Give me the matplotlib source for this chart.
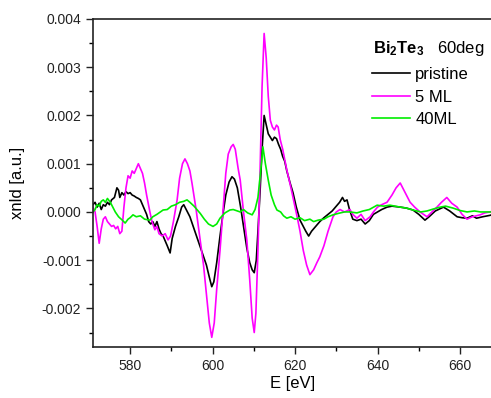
import numpy as np
import matplotlib
matplotlib.use("Agg")
import matplotlib.pyplot as plt
from matplotlib.ticker import MultipleLocator

plt.rcParams["font.family"] = ["Liberation Sans", "DejaVu Sans"]
plt.rcParams["mathtext.fontset"] = "custom"
plt.rcParams["mathtext.rm"] = "Liberation Sans"
plt.rcParams["mathtext.bf"] = "Liberation Sans:bold"

# pristine (values in 1e-3 a.u.)
e_pristine = [571.0, 571.5, 572.0, 572.5, 573.0, 573.5, 574.0, 574.5, 575.0, 575.5, 576.2, 576.8, 577.2, 577.5,
              578.0, 578.5, 579.0, 579.5, 580.0, 580.5, 581.0, 581.5, 582.0, 582.5, 583.0, 583.5, 584.0, 584.5,
              585.0, 585.5, 586.0, 586.5, 587.0, 587.5, 588.0, 588.5, 589.0, 589.7, 590.2, 591.0, 591.8, 592.5,
              593.0, 593.6, 594.5, 595.5, 596.5, 597.5, 598.5, 599.2, 599.8, 600.3, 601.0, 601.8, 602.5, 603.2,
              604.0, 604.7, 605.3, 606.0, 606.8, 607.5, 608.3, 609.0, 609.6, 610.1, 610.6, 611.0, 611.5, 612.0,
              612.5, 612.9, 613.5, 614.0, 614.5, 615.0, 615.5, 616.0, 616.5, 617.0, 617.5, 618.0, 618.8, 619.5,
              620.3, 621.2, 622.0, 622.6, 623.3, 624.0, 625.0, 626.0, 627.0, 628.0, 629.0, 630.0, 630.8, 631.5,
              632.0, 632.6, 633.2, 634.0, 635.0, 636.0, 637.0, 638.0, 639.0, 640.0, 641.0, 642.3, 643.5, 645.5,
              647.0, 648.6, 650.0, 651.5, 652.5, 654.0, 656.0, 657.5, 659.3, 660.5, 661.7, 663.0, 664.0, 665.5,
              667.3, 668.0]
y_pristine = [0.15, 0.20, 0.10, 0.18, 0.05, 0.15, 0.12, 0.20, 0.15, 0.25, 0.30, 0.50, 0.45, 0.30,
              0.40, 0.35, 0.42, 0.38, 0.40, 0.35, 0.33, 0.30, 0.28, 0.25, 0.15, 0.05, -0.05, -0.20,
              -0.25, -0.20, -0.30, -0.20, -0.35, -0.45, -0.50, -0.60, -0.70, -0.85, -0.55, -0.30, -0.10, 0.10,
              0.15, 0.05, -0.10, -0.35, -0.60, -0.85, -1.10, -1.35, -1.55, -1.45, -1.05, -0.50, -0.05, 0.35,
              0.62, 0.73, 0.68, 0.50, 0.10, -0.30, -0.75, -1.05, -1.20, -1.26, -1.00, -0.40, 0.40, 1.30,
              2.00, 1.85, 1.62, 1.55, 1.48, 1.55, 1.52, 1.40, 1.30, 1.15, 1.05, 0.85, 0.60, 0.40,
              0.10, -0.17, -0.30, -0.40, -0.50, -0.40, -0.30, -0.20, -0.12, -0.05, 0.02, 0.12, 0.20, 0.30,
              0.22, 0.25, 0.05, -0.15, -0.18, -0.15, -0.25, -0.18, -0.05, 0.00, 0.05, 0.10, 0.12, 0.10,
              0.08, 0.04, -0.05, -0.17, -0.10, 0.02, 0.10, 0.02, -0.10, -0.12, -0.13, -0.08, -0.13, -0.10,
              -0.07, -0.05]

# 5 ML
e_5ml = [571.0, 571.5, 572.0, 572.5, 573.0, 573.5, 574.0, 574.5, 575.0, 575.5, 576.0, 576.5, 577.0, 577.5,
         578.0, 578.5, 579.0, 579.5, 580.0, 580.5, 581.0, 581.5, 582.0, 582.5, 583.0, 583.5, 584.0, 584.8,
         585.3, 586.0, 586.5, 587.0, 587.8, 588.5, 589.2, 589.8, 590.5, 591.4, 592.0, 592.7, 593.3, 593.9,
         594.5, 595.0, 596.0, 597.0, 597.8, 598.5, 599.2, 599.8, 600.4, 601.0, 601.8, 602.5, 603.2, 603.8,
         604.5, 605.0, 605.5, 606.2, 606.7, 607.5, 608.3, 609.0, 609.6, 610.1, 610.5, 611.0, 611.5, 612.0,
         612.5, 613.0, 613.5, 614.0, 614.5, 615.0, 615.5, 615.9, 616.4, 617.0, 618.0, 619.0, 620.0, 620.5,
         621.2, 622.0, 622.8, 623.6, 624.5, 625.3, 626.0, 627.0, 628.0, 629.2, 630.0, 630.9, 632.0, 633.3,
         634.0, 635.0, 636.0, 637.0, 638.2, 639.0, 640.0, 641.0, 642.3, 643.5, 644.5, 645.5, 646.7, 647.9,
         649.0, 650.3, 652.0, 653.2, 654.4, 655.5, 656.8, 658.0, 659.3, 660.5, 661.7, 663.0, 664.9, 666.0,
         667.3, 668.0]
y_5ml = [0.10, 0.00, -0.30, -0.65, -0.35, -0.15, -0.10, -0.20, -0.25, -0.30, -0.28, -0.35, -0.30, -0.45,
         -0.40, 0.10, 0.50, 0.75, 0.70, 0.85, 0.80, 0.90, 1.00, 0.90, 0.80, 0.60, 0.35, 0.00,
         -0.20, -0.37, -0.30, -0.45, -0.50, -0.45, -0.58, -0.50, -0.20, 0.25, 0.70, 1.00, 1.10, 1.00,
         0.85, 0.60, 0.05, -0.58, -1.10, -1.70, -2.30, -2.60, -2.30, -1.60, -0.80, 0.00, 0.80, 1.20,
         1.35, 1.40, 1.30, 0.90, 0.66, 0.00, -0.58, -1.40, -2.20, -2.50, -2.10, -0.80, 0.80, 2.60,
         3.70, 3.20, 2.40, 1.90, 1.76, 1.70, 1.80, 1.76, 1.50, 1.30, 0.87, 0.50, 0.10, -0.10,
         -0.40, -0.80, -1.10, -1.30, -1.20, -1.05, -0.93, -0.70, -0.40, -0.10, 0.00, 0.05, 0.00, 0.05,
         -0.05, -0.13, -0.05, -0.18, -0.10, 0.00, 0.10, 0.15, 0.20, 0.35, 0.50, 0.60, 0.40, 0.20,
         0.10, 0.00, -0.10, 0.00, 0.10, 0.20, 0.30, 0.18, 0.10, -0.05, -0.15, -0.10, -0.06, -0.02,
         0.00, 0.02]

# 40ML
e_40ml = [571.0, 571.5, 572.0, 572.5, 573.0, 573.5, 574.0, 574.5, 575.2, 575.8, 576.4, 577.2, 578.1, 578.8,
          579.5, 580.0, 580.7, 581.5, 582.5, 583.5, 584.8, 585.5, 586.5, 588.0, 589.0, 590.0, 591.0, 592.0,
          593.0, 593.8, 594.5, 595.5, 597.0, 598.0, 599.0, 600.1, 601.0, 601.8, 603.0, 604.2, 605.0, 606.7,
          607.5, 608.5, 609.6, 610.3, 611.0, 611.6, 612.2, 612.8, 613.5, 614.2, 615.0, 615.6, 616.5, 617.2,
          618.0, 619.0, 620.0, 621.2, 622.3, 623.6, 624.5, 625.6, 627.0, 628.0, 629.2, 630.5, 632.0, 633.3,
          635.0, 636.5, 638.0, 639.9, 641.5, 643.0, 645.5, 647.0, 648.6, 650.5, 652.0, 653.5, 655.2, 656.5,
          658.3, 660.0, 661.7, 663.5, 665.0, 667.0, 668.0]
y_40ml = [0.00, 0.05, 0.15, 0.12, 0.22, 0.25, 0.20, 0.28, 0.20, 0.10, 0.00, -0.10, -0.17, -0.23,
          -0.15, -0.12, -0.06, -0.10, -0.08, -0.15, -0.17, -0.10, -0.05, 0.04, 0.05, 0.12, 0.15, 0.20,
          0.22, 0.25, 0.20, 0.12, -0.03, -0.15, -0.25, -0.30, -0.25, -0.13, -0.02, 0.04, 0.05, 0.00,
          0.05, -0.02, -0.06, 0.05, 0.30, 0.80, 1.35, 1.00, 0.66, 0.35, 0.15, 0.04, 0.00, -0.08,
          -0.13, -0.10, -0.15, -0.12, -0.18, -0.15, -0.20, -0.17, -0.15, -0.10, -0.06, -0.03, 0.00, 0.00,
          -0.02, 0.02, 0.05, 0.14, 0.12, 0.14, 0.10, 0.08, 0.04, 0.00, 0.02, 0.06, 0.10, 0.12,
          0.08, 0.03, 0.00, 0.02, 0.00, 0.00, 0.00]

fig = plt.figure(figsize=(4.91, 3.98), dpi=100)
ax = fig.add_axes([93 / 491, 1 - 347 / 398, 400 / 491, 328 / 398])

ax.plot(e_pristine, np.array(y_pristine) * 1e-3, color="black", lw=1.2, label="pristine")
ax.plot(e_5ml, np.array(y_5ml) * 1e-3, color="#ff00ff", lw=1.2, label="5 ML")
ax.plot(e_40ml, np.array(y_40ml) * 1e-3, color="#00ee00", lw=1.2, label="40ML")

ax.set_xlim(571.0, 668.0)
ax.set_ylim(-0.0028, 0.004)
ax.xaxis.set_major_locator(MultipleLocator(20))
ax.xaxis.set_minor_locator(MultipleLocator(10))
ax.yaxis.set_major_locator(MultipleLocator(0.001))
ax.yaxis.set_minor_locator(MultipleLocator(0.0005))
ax.yaxis.set_major_formatter(plt.FuncFormatter(lambda v, p: f"{v:.3f}"))
ax.tick_params(which="major", direction="out", length=5, width=1, labelsize=10, colors="#222222")
ax.tick_params(which="minor", direction="out", length=3, width=1)
for s in ax.spines.values():
    s.set_linewidth(1.2)
    s.set_color("#222222")

ax.set_xlabel("E [eV]", fontsize=12, labelpad=2)
ax.set_ylabel("xnld [a.u.]", fontsize=12, labelpad=12)

# legend header
fig.text(373 / 491, 1 - 49 / 398, r"$\mathbf{Bi_2Te_3}$   60deg", fontsize=12, ha="left", va="center")
leg = ax.legend(loc="upper left", bbox_to_anchor=(372 / 491, 1 - 67 / 398),
                bbox_transform=fig.transFigure, frameon=False, fontsize=12,
                handlelength=2.3, handletextpad=0.3, labelspacing=0.45, borderpad=0,
                borderaxespad=0)

fig.savefig("out.png", dpi=100)
